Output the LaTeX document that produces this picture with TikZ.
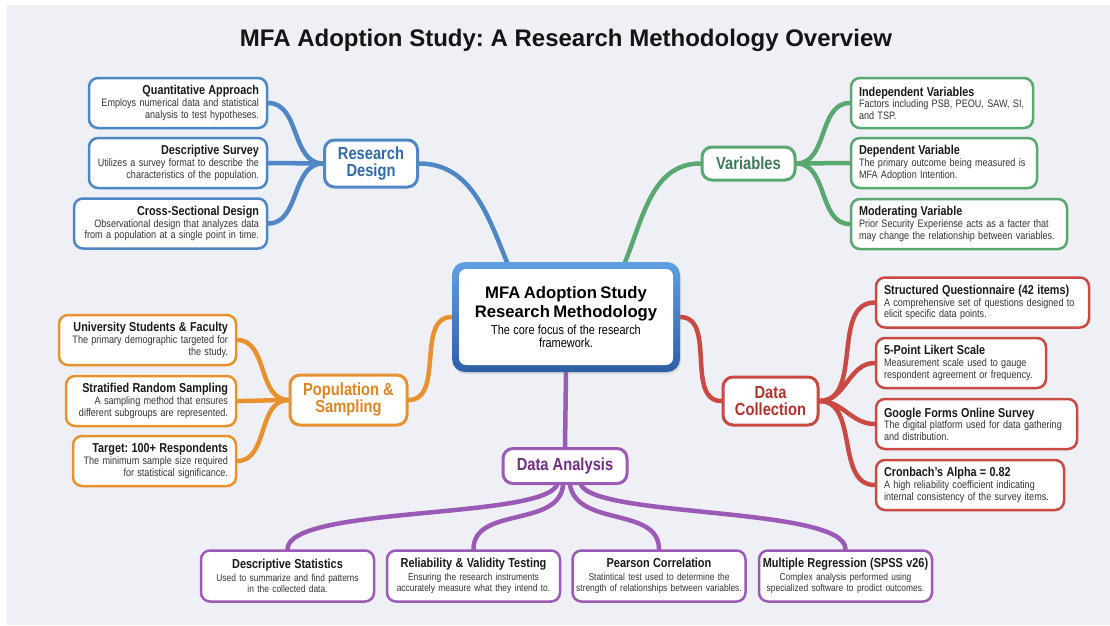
\documentclass[tikz,border=0pt]{standalone}
\usepackage{fontspec}
\setmainfont{Liberation Sans}[FakeStretch=0.84]
\newfontfamily\widefont{Liberation Sans}
\usetikzlibrary{calc,shadows}
\frenchspacing

\definecolor{pagebg}{HTML}{EEF0F5}
\definecolor{dsgnblue}{HTML}{4F86C6}
\definecolor{dsgnbluetext}{HTML}{2F6AAA}
\definecolor{vargreen}{HTML}{58A870}
\definecolor{vargreentext}{HTML}{3E7A55}
\definecolor{collred}{HTML}{C94A42}
\definecolor{collredtext}{HTML}{B0322D}
\definecolor{poporange}{HTML}{E8922F}
\definecolor{poporangetext}{HTML}{DD8522}
\definecolor{anlpurple}{HTML}{9B5AB5}
\definecolor{anlpurpletext}{HTML}{722C85}
\definecolor{coretop}{HTML}{5FA0E2}
\definecolor{corebot}{HTML}{2C5FA5}

% title line + two body lines of a leaf box
\newcommand{\leaftxt}[2]{{\bfseries\fontsize{12.9}{14}\selectfont\color{black!90}#1\par}{\fontsize{10.8}{11.6}\selectfont\color{black!80}#2\par}}
\newcommand{\basetxt}[2]{{\bfseries\fontsize{13}{14}\selectfont\color{black!90}#1\par}\vspace{1pt}{\fontsize{10}{11.3}\selectfont\color{black!80}#2\par}}

\pgfdeclarelayer{back}
\pgfdeclarelayer{links}
\pgfsetlayers{back,links,main}

\tikzset{
  leaf/.style={draw, fill=white, rounded corners=9pt, line width=2.5pt,
    inner xsep=8pt, inner ysep=4pt, minimum height=50pt,
    drop shadow={opacity=.15,shadow xshift=.8pt,shadow yshift=-1.2pt}},
  baseleaf/.style={leaf, draw=anlpurple, inner xsep=2.5pt, text width=168pt, align=center, minimum height=51pt},
  hub/.style={draw, fill=white, rounded corners=10pt, line width=3pt,
    font=\bfseries\fontsize{17.5}{17}\selectfont, align=center,
    drop shadow={opacity=.15,shadow xshift=.8pt,shadow yshift=-1.2pt}},
  link/.style={line width=4.5pt, line cap=round},
}

\begin{document}
\begin{tikzpicture}[x=1pt,y=1pt]
\useasboundingbox (0,0) rectangle (1110,-625);
\begin{pgfonlayer}{back}
\fill[white] (0,0) rectangle (1110,-625);
\fill[pagebg] (7,-5) rectangle (1110,-625);
\end{pgfonlayer}

\node[font=\widefont\bfseries\fontsize{24}{26}\selectfont, text=black!92] (title) at (566,-40) {MFA Adoption Study: A Research Methodology Overview};

% centre
\node[minimum width=228pt, minimum height=110pt, rounded corners=13pt, top color=coretop, bottom color=corebot,
  drop shadow={opacity=.2,shadow xshift=1pt,shadow yshift=-2pt}] (core) at (566,-317) {};
\node[fill=white, rounded corners=7pt, text width=200pt, inner xsep=7pt, minimum height=96pt, align=center] (corepanel) at (core.center)
  {{\widefont\bfseries\fontsize{16.7}{19.5}\selectfont MFA Adoption Study\\Research Methodology\par}\vspace{3pt}{\fontsize{13}{13.5}\selectfont The core focus of the research\\framework.\par}};

% hubs
\node[hub, draw=dsgnblue, text=dsgnbluetext, minimum width=93pt, minimum height=47pt] (design) at (371,-163.5) {Research\\Design};
\node[hub, draw=vargreen, text=vargreentext, minimum width=93pt, minimum height=33pt] (variables) at (748.5,-163.5) {Variables};
\node[hub, draw=collred, text=collredtext, minimum width=95pt, minimum height=48pt] (collection) at (770.5,-401) {Data\\Collection};
\node[hub, draw=poporange, text=poporangetext, minimum width=117pt, minimum height=50pt] (sampling) at (348.5,-400) {Population \&\\Sampling};
\node[hub, draw=anlpurple, text=anlpurpletext, minimum width=124pt, minimum height=35pt] (analysis) at (565,-466) {Data Analysis};

% research design
\node[leaf, draw=dsgnblue, text width=162pt, align=right] (quant) at (178,-103) {\leaftxt{Quantitative Approach}{Employs numerical data and statistical\\analysis to test hypotheses.}};
\node[leaf, draw=dsgnblue, text width=162pt, align=right] (descsurvey) at (178,-163) {\leaftxt{Descriptive Survey}{Utilizes a survey format to describe the\\characteristics of the population.}};
\node[leaf, draw=dsgnblue, text width=177pt, align=right] (crosssec) at (170.5,-223.5) {\leaftxt{Cross-Sectional Design}{Observational design that analyzes data\\from a population at a single point in time.}};

% variables
\node[leaf, draw=vargreen, text width=166pt, align=left] (indepvar) at (942,-103) {\leaftxt{Independent Variables}{Factors including PSB, PEOU, SAW, SI,\\and TSP.}};
\node[leaf, draw=vargreen, text width=170pt, align=left] (depvar) at (944,-163) {\leaftxt{Dependent Variable}{The primary outcome being measured is\\MFA Adoption Intention.}};
\node[leaf, draw=vargreen, text width=200pt, align=left] (modvar) at (959,-224) {\leaftxt{Moderating Variable}{Prior Security Experiense acts as a facter that\\may change the relationship between variables.}};

% data collection
\node[leaf, draw=collred, text width=197pt, align=left] (questionnaire) at (982.5,-302.5) {\leaftxt{Structured Questionnaire (42 items)}{A comprehensive set of questions designed to\\elicit specific data points.}};
\node[leaf, draw=collred, text width=154pt, align=left] (likert) at (961,-363) {\leaftxt{5-Point Likert Scale}{Measurement scale used to gauge\\respondent agreement or frequency.}};
\node[leaf, draw=collred, text width=185pt, align=left] (gforms) at (976.5,-424) {\leaftxt{Google Forms Online Survey}{The digital platform used for data gathering\\and distribution.}};
\node[leaf, draw=collred, text width=172pt, align=left] (cronbach) at (970,-485) {\leaftxt{Cronbach's Alpha = 0.82}{A high reliability coefficient indicating\\internal consistency of the survey items.}};

% population & sampling
\node[leaf, draw=poporange, text width=161pt, align=right] (students) at (147.5,-340) {\leaftxt{University Students \& Faculty}{The primary demographic targeted for\\the study.}};
\node[leaf, draw=poporange, text width=154pt, align=right] (stratified) at (151,-401) {\leaftxt{Stratified Random Sampling}{A sampling method that ensures\\different subgroups are represented.}};
\node[leaf, draw=poporange, text width=147pt, align=right] (target) at (154.5,-461) {\leaftxt{Target: 100+ Respondents}{The minimum sample size required\\for statistical significance.}};

% data analysis
\node[baseleaf] (descstats) at (287.5,-576) {\basetxt{Descriptive Statistics}{Used to summarize and find patterns\\in the collected data.}};
\node[baseleaf] (reliability) at (473.5,-576) {\basetxt{Reliability \& Validity Testing}{Ensuring the research instruments\\accurately measure what they intend to.}};
\node[baseleaf] (pearson) at (659,-576) {\basetxt{Pearson Correlation}{Statintical test used to determine the\\strength of relationships between variables.}};
\node[baseleaf] (regression) at (845.5,-576) {\basetxt{\mbox{Multiple Regression (SPSS v26)}}{Complex analysis performed using\\specialized software to prodict outcomes.}};

\begin{pgfonlayer}{links}
% hubs to centre
\draw[link, dsgnblue] (design.east) to[out=0,in=112] ($(core.north west)+(55,0)$);
\draw[link, vargreen] (variables.west) to[out=180,in=68] ($(core.north east)+(-55,0)$);
\draw[link, collred] (core.east) to[out=0,in=180] (collection.west);
\draw[link, poporange] (sampling.east) to[out=0,in=180] (core.west);
\draw[link, anlpurple] (core.south) -- (analysis.north);

\draw[link, dsgnblue] (design.west) to[out=180,in=0] (quant.east);
\draw[link, dsgnblue] (design.west) to[out=180,in=0] (descsurvey.east);
\draw[link, dsgnblue] (design.west) to[out=180,in=0] (crosssec.east);

\draw[link, vargreen] (variables.east) to[out=0,in=180] (indepvar.west);
\draw[link, vargreen] (variables.east) to[out=0,in=180] (depvar.west);
\draw[link, vargreen] (variables.east) to[out=0,in=180] (modvar.west);

\draw[link, collred] (collection.east) to[out=0,in=180] (questionnaire.west);
\draw[link, collred] (collection.east) to[out=0,in=180] (likert.west);
\draw[link, collred] (collection.east) to[out=0,in=180] (gforms.west);
\draw[link, collred] (collection.east) to[out=0,in=180] (cronbach.west);

\draw[link, poporange] (sampling.west) to[out=180,in=0] (students.east);
\draw[link, poporange] (sampling.west) to[out=180,in=0] (stratified.east);
\draw[link, poporange] (sampling.west) to[out=180,in=0] (target.east);

\draw[link, anlpurple] ($(analysis.south)+(-8,0)$) to[out=-115,in=90,out looseness=.35,in looseness=.4] (descstats.north);
\draw[link, anlpurple] ($(analysis.south)+(-2,0)$) to[out=-95,in=90] (reliability.north);
\draw[link, anlpurple] ($(analysis.south)+(5,0)$) to[out=-80,in=90] (pearson.north);
\draw[link, anlpurple] ($(analysis.south)+(16,0)$) to[out=-62,in=90,out looseness=.35,in looseness=.4] (regression.north);
\end{pgfonlayer}
\end{tikzpicture}
\end{document}
